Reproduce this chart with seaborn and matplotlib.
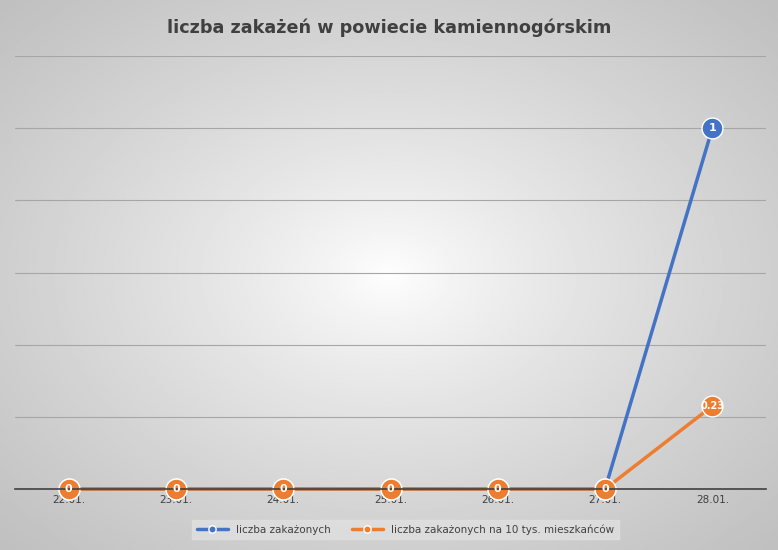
import matplotlib.pyplot as plt
import seaborn as sns
import pandas as pd
import numpy as np

dates = ['22.01.', '23.01.', '24.01.', '25.01.', '26.01.', '27.01.', '28.01.']
infected = [0, 0, 0, 0, 0, 0, 1]
per_10k = [0, 0, 0, 0, 0, 0, 0.23]
infected_labels = [None, None, None, None, None, None, '1']
per_10k_labels = ['0', '0', '0', '0', '0', '0', '0.23']

sns.set_style('white')
plt.rcParams['font.family'] = ['DejaVu Sans']

fig = plt.figure(figsize=(7.78, 5.5), dpi=100)

# radial gray gradient background like Excel
bg = fig.add_axes([0, 0, 1, 1], zorder=-10)
yy, xx = np.mgrid[-1:1:300j, -1:1:400j]
r = np.sqrt(xx**2 + yy**2) / np.sqrt(2)
bg.imshow(1 - 0.25 * r**0.8, cmap='gray', vmin=0, vmax=1, aspect='auto', extent=[0, 1, 0, 1])
bg.axis('off')

ax = fig.add_axes([15 / 778, 61 / 550, 751 / 778, 433 / 550])
ax.patch.set_alpha(0)

df = pd.DataFrame({'date': dates, 'liczba zakażonych': infected,
                   'liczba zakażonych na 10 tys. mieszkańców': per_10k})
x = np.arange(len(dates))
style = dict(lw=2.5, marker='o', markersize=15, markeredgecolor='white', markeredgewidth=1, clip_on=False)
sns.lineplot(x=x, y=df['liczba zakażonych'], ax=ax, color='#4472c4',
             label='liczba zakażonych', **style)
sns.lineplot(x=x, y=df['liczba zakażonych na 10 tys. mieszkańców'], ax=ax, color='#ed7d31',
             label='liczba zakażonych na 10 tys. mieszkańców', **style)

for xi, yi, lab in zip(x, infected, infected_labels):
    if lab:
        ax.text(xi, yi, lab, color='white', ha='center', va='center', fontsize=8, fontweight='bold', zorder=5)
for xi, yi, lab in zip(x, per_10k, per_10k_labels):
    ax.text(xi, yi, lab, color='white', ha='center', va='center',
            fontsize=8 if lab == '0' else 7, fontweight='bold', zorder=5)

ax.set_xlim(-0.5, len(dates) - 0.5)
ax.set_ylim(0, 1.2)
ax.set_yticks(np.arange(0, 1.21, 0.2))
ax.set_yticklabels([])
ax.tick_params(axis='y', length=0)
ax.grid(axis='y', color='#a6a6a6', lw=0.8)
ax.set_xticks(x)
ax.set_xticklabels(dates, fontsize=7.5, color='#404040')
ax.tick_params(axis='x', length=0, pad=4)
for s in ['top', 'right', 'left']:
    ax.spines[s].set_visible(False)
ax.spines['bottom'].set_color('#404040')
ax.spines['bottom'].set_linewidth(1.2)
ax.set_xlabel('')
ax.set_ylabel('')

leg = ax.legend(loc='upper center', bbox_to_anchor=(0.52, -0.06), ncol=2, fontsize=7.5,
                frameon=True, fancybox=False, markerscale=0.35, handlelength=3)
leg.get_frame().set_facecolor('#e0e0e0')
leg.get_frame().set_edgecolor('#e0e0e0')
for t in leg.get_texts():
    t.set_color('#404040')

fig.text(0.5, 0.95, 'liczba zakażeń w powiecie kamiennogórskim', ha='center', va='center',
         fontsize=12.7, fontweight='bold', color='#404040')

fig.savefig('out.png', dpi=100)
